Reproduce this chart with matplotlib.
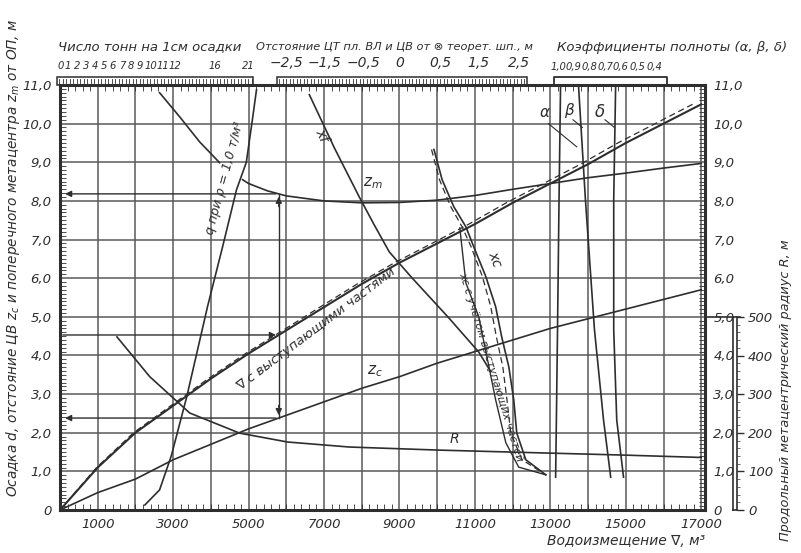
import numpy as np
import matplotlib.pyplot as plt
from matplotlib.patches import Rectangle

plt.rcParams['font.family'] = ['DejaVu Sans']
plt.rcParams['font.style'] = 'italic'

INK = '#2e2e2e'
GRID = '#5a5a5a'

# displacement (m3) vs draft, with appendages (solid) / bare hull (dashed)
disp = [0, 1000, 2000, 3000, 4000, 5000, 6000, 7000, 8000, 9000,
        10000, 11000, 12000, 13000, 14000, 15000, 16000, 17000]
draft = [0, 1.1, 2.0, 2.7, 3.4, 4.05, 4.65, 5.25, 5.85, 6.4,
         6.9, 7.4, 7.95, 8.45, 8.95, 9.5, 10.0, 10.5]
disp_bare = [0, 970, 1950, 2940, 3930, 4920, 5910, 6890, 7880, 8870,
             9860, 10840, 11830, 12820, 13800, 14790, 15780, 16770]
# vertical centre of buoyancy z_c
zc = [0, 0.45, 0.8, 1.3, 1.7, 2.1, 2.45, 2.8, 3.15, 3.45,
      3.8, 4.1, 4.4, 4.7, 4.95, 5.2, 5.45, 5.7]

# transverse metacentre z_m
zm_disp = [4840, 5000, 5500, 6000, 7000, 8000, 9000, 10000, 11000,
           12000, 13000, 14000, 15000, 16000, 17000]
zm = [8.55, 8.45, 8.26, 8.13, 8.0, 7.95, 7.96, 8.02, 8.14,
      8.3, 8.45, 8.6, 8.72, 8.85, 8.97]

# tons per cm immersion q (plotted position, draft)
q_pos = [2250, 2640, 2950, 3360, 3910, 4310, 4680, 4940, 5100, 5210]
q_draft = [0.13, 0.52, 1.4, 2.93, 5.26, 6.81, 8.29, 9.0, 10.1, 10.88]

# short unlabelled curve, upper left
aux_pos = [2640, 3170, 3700, 4230]
aux_draft = [10.8, 10.18, 9.53, 8.99]

# longitudinal metacentric radius R, m (right scale 0..500)
r_disp = [1510, 2380, 3440, 4760, 6030, 7670, 10050, 12690, 14990, 17000]
r_val = [448, 345, 251, 199, 176, 163, 155, 148, 142, 136]

# LCF x_f and LCB x_c (plotted position, draft)
xf_pos = [6610, 7270, 7930, 8330, 8730, 9330, 10310, 11100, 11420]
xf_draft = [10.75, 9.38, 8.11, 7.38, 6.68, 6.01, 4.97, 4.09, 3.58]
xc_pos = [9915, 10130, 10440, 10760, 10970, 11290, 11550, 11710,
          11900, 12030, 12110, 12350, 12880]
xc_draft = [9.33, 8.55, 7.85, 7.33, 6.81, 6.04, 5.26, 4.48,
            3.70, 2.85, 1.99, 1.30, 0.91]
xc_app_pos = [9850, 10060, 10360, 10660, 10900, 11200, 11420, 11570,
              11740, 11850, 11950, 12250, 12880]
band_pos = [10600, 10760, 11100, 11320, 11550, 11820, 12160, 12880]
band_draft = [7.3, 5.88, 5.0, 3.96, 2.85, 1.74, 1.11, 0.91]

# block coefficients alpha, beta, delta (plotted position, draft)
coef_draft = [10.93, 8.03, 4.66, 2.33, 0.85]
alpha_pos = [13270, 13230, 13190, 13160, 13140]
beta_pos = [13750, 13930, 14170, 14410, 14600]
delta_pos = [14730, 14680, 14680, 14760, 14940]

x_ticks = [1000, 3000, 5000, 7000, 9000, 11000, 13000, 15000, 17000]
y_ticks = list(range(0, 12))
y_labels = ['0'] + [f'{v},0' for v in range(1, 12)]
r_ticks = [0, 100, 200, 300, 400, 500]

ton_labels = ['0', '1', '2', '3', '4', '5', '6', '7', '8', '9', '10', '11', '12', '16', '21']
ton_px = [61, 68, 77, 86, 95, 104, 113, 122, 131, 140, 151, 163, 175, 215, 248]
dist_labels = ['\u22122,5', '\u22121,5', '\u22120,5', '0', '0,5', '1,5', '2,5']
dist_px = [286, 324, 363, 400, 440, 478, 519]
coef_labels = ['1,0', '0,9', '0,8', '0,7', '0,6', '0,5', '0,4']
coef_px = [558, 573, 589, 605, 620, 637, 654]

W, H = 801, 553
fig = plt.figure(figsize=(W / 100, H / 100), dpi=100)

deco = fig.add_axes([0, 0, 1, 1])
deco.set_xlim(0, W)
deco.set_ylim(H, 0)
deco.axis('off')

ax = fig.add_axes([60 / W, 43 / H, 645 / W, 425 / H])
ax.set_xlim(0, 17100)
ax.set_ylim(0, 11)
ax.patch.set_alpha(0)

for v in range(1000, 17001, 1000):
    ax.axvline(v, color=GRID, lw=1.1, zorder=1)
for v in range(1, 11):
    ax.axhline(v, color=GRID, lw=1.1, zorder=1)

lw = 1.2
ax.plot(disp, draft, color=INK, lw=lw + 0.3, zorder=3)
ax.plot(disp_bare, draft, color=INK, lw=0.9, ls=(0, (5, 3)), zorder=3)
ax.plot(disp, zc, color=INK, lw=lw, zorder=3)
ax.plot(zm_disp, zm, color=INK, lw=lw, zorder=3)
ax.plot(q_pos, q_draft, color=INK, lw=lw, zorder=3)
ax.plot(aux_pos, aux_draft, color=INK, lw=lw, zorder=3)
ax.plot(r_disp, np.array(r_val) / 100.0, color=INK, lw=lw, zorder=3)
ax.plot(xf_pos, xf_draft, color=INK, lw=lw, zorder=3)
ax.plot(xc_pos, xc_draft, color=INK, lw=lw, zorder=3)
ax.plot(xc_app_pos, xc_draft, color=INK, lw=0.9, ls=(0, (5, 3)), zorder=3)
ax.plot(band_pos, band_draft, color=INK, lw=1.0, zorder=3)
ax.plot(alpha_pos, coef_draft, color=INK, lw=lw, zorder=3)
ax.plot(beta_pos, coef_draft, color=INK, lw=lw, zorder=3)
ax.plot(delta_pos, coef_draft, color=INK, lw=lw, zorder=3)

# worked example: draft -> displacement -> z_c, z_m
d_ex = 4.53
v_ex = np.interp(d_ex, draft, disp)
zm_ex = np.interp(v_ex, zm_disp, zm)
zc_ex = np.interp(v_ex, disp, zc)
arr = dict(arrowstyle='-|>', color=INK, lw=1.0, mutation_scale=9)
ax.annotate('', xy=(v_ex, d_ex), xytext=(0, d_ex), arrowprops=arr, zorder=4)
ax.plot([v_ex, v_ex], [zc_ex, zm_ex], color=INK, lw=1.0, zorder=4)
ax.annotate('', xy=(v_ex, zm_ex), xytext=(v_ex, zm_ex - 0.4), arrowprops=arr, zorder=4)
ax.annotate('', xy=(v_ex, zc_ex), xytext=(v_ex, zc_ex + 0.4), arrowprops=arr, zorder=4)
ax.annotate('', xy=(60, zm_ex), xytext=(v_ex, zm_ex), arrowprops=arr, zorder=4)
ax.annotate('', xy=(60, zc_ex), xytext=(v_ex, zc_ex), arrowprops=arr, zorder=4)

# curve labels
tk = dict(color=INK, zorder=5)
ax.text(6800, 4.68, '\u2207 с выступающими частями', rotation=37, fontsize=9.5,
        ha='center', va='center', **tk)
ax.text(4360, 8.6, 'q при \u03c1 = 1,0 т/м\u00b3', rotation=75, fontsize=9,
        ha='center', va='center', **tk)
ax.text(6950, 9.7, 'xf', rotation=-65, fontsize=10, ha='center', va='center', **tk)
ax.text(8300, 8.45, 'z$_m$', fontsize=11, ha='center', va='center', **tk)
ax.text(8350, 3.6, 'z$_c$', fontsize=11, ha='center', va='center', **tk)
ax.text(10450, 1.85, 'R', fontsize=10, ha='center', va='center', **tk)
ax.text(11520, 6.5, 'xc', rotation=-70, fontsize=10, ha='center', va='center', **tk)
ax.text(11430, 3.7, 'xc с учётом выступающих частей', rotation=-73, fontsize=8,
        ha='center', va='center', **tk)
ax.text(12840, 10.3, '\u03b1', fontsize=11, ha='center', va='center', **tk)
ax.text(13480, 10.35, '\u03b2', fontsize=11, ha='center', va='center', **tk)
ax.text(14300, 10.3, '\u03b4', fontsize=12, ha='center', va='center', **tk)
ax.plot([12950, 13700], [10.0, 9.4], color=INK, lw=0.8, zorder=5)
ax.plot([13600, 13850], [10.1, 9.9], color=INK, lw=0.8, zorder=5)
ax.plot([14450, 14700], [10.1, 9.9], color=INK, lw=0.8, zorder=5)

# axes, ticks
for s in ax.spines.values():
    s.set_color(INK)
    s.set_linewidth(2.2)
ax.set_xticks(x_ticks)
ax.set_xticklabels([str(v) for v in x_ticks])
ax.set_yticks(y_ticks)
ax.set_yticklabels(y_labels)
ax.set_xticks(np.arange(0, 17100, 200), minor=True)
ax.set_yticks(np.arange(0, 11.01, 0.1), minor=True)
ax.tick_params(which='major', length=0, labelsize=9.5, labelcolor=INK, pad=6)
ax.tick_params(which='minor', direction='in', length=4, width=0.6, color=INK)
ax.tick_params(axis='y', which='both', right=True, labelright=True)
ax.tick_params(axis='x', which='minor', top=True)

ax.set_xlabel('Водоизмещение \u2207, м\u00b3', fontsize=10, color=INK, loc='right', labelpad=2)

# R scale on the right
axr = fig.add_axes([733 / W, 43 / H, 4 / W, 193 / H])
axr.set_ylim(0, 500)
axr.set_xticks([])
axr.set_yticks(r_ticks)
axr.yaxis.tick_right()
axr.tick_params(length=5, width=1, color=INK, labelsize=9.5, labelcolor=INK, pad=3)
axr.set_yticks(np.arange(0, 501, 20), minor=True)
axr.tick_params(which='minor', length=2, width=0.5, color=INK)
axr.patch.set_alpha(0)
for k, s in axr.spines.items():
    s.set_color(INK)
    s.set_linewidth(1.2)
axr.spines['top'].set_visible(False)
deco.plot([705, 740], [317, 317], color=INK, lw=1.2)

# top scales
def ruler(x0, x1, y0=77, y1=85):
    deco.add_patch(Rectangle((x0, y0), x1 - x0, y1 - y0, fill=False, ec=INK, lw=1.1))
    for xx in np.arange(x0 + 2, x1, 3.5):
        deco.plot([xx, xx], [y0 + 2, y1 - 2], color=INK, lw=0.6)

ruler(57, 253)
ruler(277, 527)
deco.plot([554, 554, 667, 667], [85, 77, 77, 85], color=INK, lw=1.3)

for lab, px in zip(ton_labels, ton_px):
    deco.text(px, 71, lab, fontsize=7.2, ha='center', va='bottom', color=INK)
for lab, px in zip(dist_labels, dist_px):
    deco.text(px, 70, lab, fontsize=10, ha='center', va='bottom', color=INK)
for lab, px in zip(coef_labels, coef_px):
    deco.text(px, 72, lab, fontsize=7.2, ha='center', va='bottom', color=INK)

deco.text(150, 47, 'Число тонн на 1см осадки', fontsize=9.5, ha='center', va='center', color=INK)
deco.text(395, 47, 'Отстояние ЦТ пл. ВЛ и ЦВ от \u2297 теорет. шп., м', fontsize=8.2,
          ha='center', va='center', color=INK)
deco.text(672, 47, 'Коэффициенты полноты (\u03b1, \u03b2, \u03b4)', fontsize=9.5,
          ha='center', va='center', color=INK)

deco.text(13, 258, 'Осадка d, отстояние ЦВ z$_c$ и поперечного метацентра z$_m$ от ОП, м',
          rotation=90, fontsize=9.8, ha='center', va='center', color=INK)
deco.text(786, 390, 'Продольный метацентрический радиус R, м',
          rotation=90, fontsize=9.3, ha='center', va='center', color=INK)

fig.savefig('out.png', dpi=100)
